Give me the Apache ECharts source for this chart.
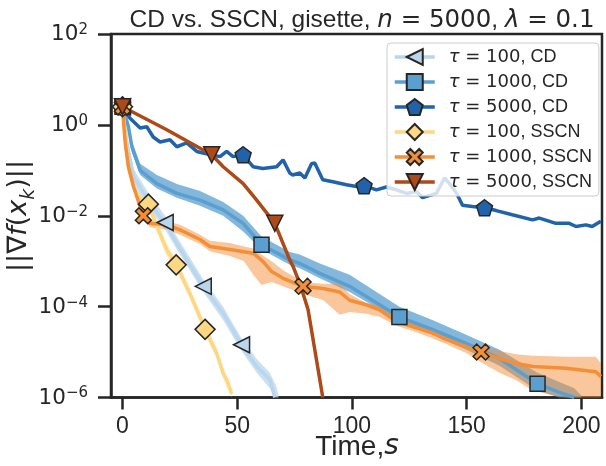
<!DOCTYPE html>
<html><head><meta charset="utf-8">
<script src="https://cdn.jsdelivr.net/npm/echarts@6/dist/echarts.min.js"></script>
<style>html,body{margin:0;padding:0;background:#fff}#c{width:606px;height:466px}</style>
</head><body><div id="c"></div>
<script>
// ---------- tick labels ----------
const xTicks = [0, 50, 100, 150, 200];
const yTicks = [1e-6, 1e-4, 1e-2, 1e0, 1e2];
const seriesNames = ['τ = 100, CD', 'τ = 1000, CD', 'τ = 5000, CD', 'τ = 100, SSCN', 'τ = 1000, SSCN', 'τ = 5000, SSCN'];

// ---------- τ = 100, CD ----------
const cd100X = [0, 1.9, 4.8, 12.0, 16.4, 18.6, 23.7, 35.2, 43.9, 51.9, 58.5, 64.2, 66.4];
const cd100Y = [2.5, 0.40, 0.072, 0.019, 0.0095, 0.0071, 0.00245, 0.00028, 0.000071, 0.0000145, 0.0000048, 0.0000025, 0.000001];
const cd100Marks = [0, 5, 7, 9];
const cd100BandX = [0, 1.9, 4.8, 12, 16.4, 18.6, 23.7, 35.2, 43.9, 51.9, 58.5, 64.2, 67, 68];
const cd100BandLo = [2.5, 0.28, 0.050, 0.0126, 0.0071, 0.005, 0.0018, 0.00021, 0.00005, 0.0000105, 0.0000035, 0.0000016, 6.3e-7, 5e-7];
const cd100BandHi = [2.5, 0.56, 0.11, 0.028, 0.014, 0.01, 0.0035, 0.0004, 0.0001, 0.00002, 0.000007, 0.0000035, 0.0000018, 0.0000011];

// ---------- τ = 1000, CD ----------
const cd1000X = [0, 2.6, 4.1, 7.7, 15.0, 23.7, 33.8, 43.9, 52.6, 60.6, 72.9, 77.3, 86.0, 99.0, 120.7, 135.3, 149.8, 164.3, 180.9, 190.4, 196.9];
const cd1000Y = [2.5, 0.91, 0.33, 0.10, 0.051, 0.031, 0.022, 0.0135, 0.0068, 0.0023, 0.00107, 0.00089, 0.00054, 0.00028, 0.000059, 0.000031, 0.0000155, 0.0000072, 0.000002, 0.0000013, 0.000001];
const cd1000Marks = [0, 9, 14, 18];
const cd1000BandX = [0, 2.6, 4.1, 7.7, 15, 23.7, 33.8, 43.9, 52.6, 60.6, 72.9, 77.3, 86, 99, 120.7, 135.3, 149.8, 164.3, 180.9, 190.4, 196.9, 200];
const cd1000BandLo = [2.5, 0.79, 0.25, 0.079, 0.04, 0.025, 0.0166, 0.01, 0.0045, 0.0018, 0.00083, 0.0007, 0.00042, 0.00021, 0.000048, 0.000024, 0.0000112, 0.000005, 0.0000014, 8e-7, 6.3e-7, 5e-7];
const cd1000BandHi = [2.5, 1.12, 0.45, 0.14, 0.079, 0.05, 0.035, 0.02, 0.01, 0.0035, 0.0016, 0.0014, 0.00089, 0.0005, 0.0001, 0.00005, 0.000024, 0.0000112, 0.0000035, 0.0000022, 0.0000016, 0.0000011];

// ---------- τ = 5000, CD ----------
const cd5000X = [0, 3.3, 7.7, 10.6, 13.4, 16.4, 20.7, 23.7, 28.0, 32.4, 35.1, 42.5, 45.4, 48.2, 52.6, 56.9, 61.2, 67.2, 70.0, 72.9, 74.2, 77.3, 79.5, 82.4, 83.8, 87.3, 91.7, 97.6, 102.0, 105.3, 110.7, 115.0, 119.4, 123.7, 128.1, 130.8, 136.8, 140.4, 142.5, 145.5, 148.2, 152.5, 157.8, 162.9, 169.9, 178.7, 181.7, 188.9, 194.7, 197.7, 202.0, 204.7, 208.5];
const cd5000Y = [2.5, 1.4, 0.85, 0.91, 0.54, 0.42, 0.47, 0.33, 0.40, 0.26, 0.24, 0.20, 0.26, 0.20, 0.22, 0.12, 0.11, 0.12, 0.17, 0.087, 0.079, 0.087, 0.068, 0.14, 0.145, 0.062, 0.056, 0.048, 0.044, 0.046, 0.037, 0.043, 0.037, 0.031, 0.034, 0.025, 0.031, 0.068, 0.051, 0.032, 0.017, 0.016, 0.015, 0.013, 0.0105, 0.0081, 0.0089, 0.0068, 0.0068, 0.0058, 0.0063, 0.0058, 0.0076];
const cd5000Marks = [0, 14, 29, 42];

// ---------- τ = 100, SSCN ----------
const sscn100X = [0, 1.2, 2.5, 5.0, 8.0, 11.3, 13.4, 15.0, 19.3, 23.4, 29.4, 36.0, 41.1, 43.9, 45.4, 47.6];
const sscn100Y = [2.5, 0.63, 0.126, 0.040, 0.022, 0.018, 0.0095, 0.0058, 0.0018, 0.00083, 0.000195, 0.0000316, 0.0000093, 0.0000034, 0.0000025, 0.0000012];
const sscn100Marks = [0, 5, 9, 11];
const sscn100BandX = [0, 1.2, 2.5, 5, 8, 11.3, 15, 19.3, 23.4, 29.4, 36, 41.1, 43.9, 47.6];
const sscn100BandLo = [2.5, 0.5, 0.1, 0.032, 0.0178, 0.014, 0.0045, 0.0013, 0.00063, 0.00015, 0.000024, 0.000007, 0.0000026, 0.000001];
const sscn100BandHi = [2.5, 0.79, 0.16, 0.05, 0.028, 0.022, 0.0076, 0.0024, 0.00112, 0.00025, 0.000042, 0.000012, 0.0000045, 0.0000016];

// ---------- τ = 1000, SSCN ----------
const sscn1000X = [0, 0.4, 1.2, 2.6, 4.8, 7.7, 9.1, 12.0, 19.3, 25.1, 33.8, 38.1, 46.8, 57.0, 61.3, 65.0, 70.0, 78.7, 87.4, 94.7, 99.0, 106.3, 112.1, 119.4, 126.6, 135.3, 141.1, 149.8, 156.3, 164.3, 171.6, 178.8, 193.3, 206.3, 208.5];
const sscn1000Y = [2.5, 1.3, 0.40, 0.12, 0.044, 0.016, 0.010, 0.0068, 0.0063, 0.0049, 0.0030, 0.0021, 0.0018, 0.0015, 0.00098, 0.00059, 0.00042, 0.00028, 0.00025, 0.00021, 0.000138, 0.00011, 0.000085, 0.000047, 0.000036, 0.000026, 0.000019, 0.0000132, 0.00001, 0.0000072, 0.0000056, 0.0000048, 0.0000044, 0.0000037, 0.0000029];
const sscn1000Marks = [0, 6, 17, 28];
const sscn1000BandX = [0, 2.6, 4.8, 7.7, 9.1, 12.0, 19.3, 25.1, 33.8, 38.1, 46.8, 53, 57, 60.6, 65, 70, 78.7, 87.4, 94.7, 99, 106.3, 112.1, 119.4, 126.6, 135.3, 141.1, 149.8, 156.3, 164.3, 171.6, 178.8, 193.3, 206.3, 208.5];
const sscn1000BandLo = [2.5, 0.1, 0.035, 0.013, 0.0085, 0.0056, 0.005, 0.0038, 0.0024, 0.00166, 0.0013, 0.001, 0.0005, 0.0003, 0.00035, 0.00028, 0.00019, 0.00014, 0.000066, 0.000076, 0.00007, 0.00006, 0.000038, 0.000029, 0.00002, 0.000015, 0.0000095, 0.000006, 0.0000035, 0.0000024, 0.0000014, 5e-7, 5e-7, 5e-7];
const sscn1000BandHi = [2.5, 0.14, 0.052, 0.019, 0.0115, 0.0079, 0.0076, 0.0063, 0.0038, 0.0028, 0.0025, 0.0021, 0.0019, 0.0014, 0.001, 0.00063, 0.00035, 0.00032, 0.00032, 0.00019, 0.00012, 0.000105, 0.000056, 0.000043, 0.00003, 0.000022, 0.0000166, 0.0000132, 0.0000105, 0.0000089, 0.0000083, 0.0000079, 0.0000079, 0.0000056];

// ---------- τ = 5000, SSCN ----------
const sscn5000X = [0, 19.3, 38.9, 43.9, 52.6, 58.5, 66.4, 72.9, 74.4, 77.3, 78.7, 80.9, 86.0, 87.3];
const sscn5000Y = [2.5, 0.78, 0.22, 0.12, 0.051, 0.022, 0.0068, 0.00107, 0.00076, 0.00032, 0.000195, 0.000085, 0.0000025, 0.000001];
const sscn5000Marks = [0, 2, 6];

// ---------- styling ----------
const C = {
  lightBlue: '#b9d6ec', midBlue: '#5a9fd0', darkBlue: '#2163aa',
  yellow: '#fed782', orange: '#f48f38', brown: '#ad4a18', ink: '#262626'
};
const FONT = 'Liberation Sans';
const MATH = 'DejaVu Sans';
const SYM = {
  triLeft: 'path://M-1,0 L1,-1 L1,1 Z',
  square: 'rect',
  pentagon: 'path://M0,-1 L0.951,-0.309 L0.588,0.809 L-0.588,0.809 L-0.951,-0.309 Z',
  diamond: 'diamond',
  xmark: 'path://M-1,-0.55 L-0.55,-1 L0,-0.45 L0.55,-1 L1,-0.55 L0.45,0 L1,0.55 L0.55,1 L0,0.45 L-0.55,1 L-1,0.55 L-0.45,0 Z',
  triDown: 'path://M-1,-1 L1,-1 L0,1 Z'
};

function band(xs, lo, hi, color, opacity) {
  return {
    type: 'custom', silent: true, animation: false,
    data: [[0, 1]], encode: { x: 0, y: 1 },
    renderItem: function (params, api) {
      const pts = [];
      for (let i = 0; i < xs.length; i++) pts.push(api.coord([xs[i], Math.max(hi[i], 1e-6)]));
      for (let i = xs.length - 1; i >= 0; i--) pts.push(api.coord([xs[i], Math.max(lo[i], 1e-6)]));
      return { type: 'polygon', shape: { points: pts }, style: { fill: color, opacity: opacity } };
    }
  };
}
function line(name, xs, ys, marks, color, symbol, size) {
  return {
    type: 'line', name: name, symbol: symbol, symbolSize: size, showSymbol: true,
    animation: false, z: 3,
    data: xs.map((x, i) => marks.indexOf(i) >= 0 ? { value: [x, ys[i]] } : { value: [x, ys[i]], symbol: 'none' }),
    lineStyle: { color: color, width: 3.5 },
    itemStyle: { color: color, borderColor: C.ink, borderWidth: 1.5 },
    emphasis: { disabled: true }
  };
}

const chart = echarts.init(document.getElementById('c'), null, { renderer: 'canvas' });
chart.setOption({
  animation: false,
  backgroundColor: '#fff',
  textStyle: { fontFamily: FONT, color: C.ink },
  title: {
    text: '{a|CD vs. SSCN, gisette, }{i|n}{m| = 5000}{a|, }{i|λ}{m| = 0.1}',
    left: 357, textAlign: 'center', top: 3,
    textStyle: {
      fontWeight: 'normal',
      rich: {
        a: { fontFamily: FONT, fontSize: 24.5, color: C.ink, fontWeight: 'normal' },
        m: { fontFamily: MATH, fontSize: 24.5, color: C.ink, fontWeight: 'normal' },
        i: { fontFamily: MATH, fontSize: 24.5, color: C.ink, fontStyle: 'italic', fontWeight: 'normal' }
      }
    }
  },
  graphic: [
    {
      type: 'text', x: 357, y: 447, silent: true,
      style: {
        text: '{a|Time,}{i|s}', align: 'center', verticalAlign: 'middle',
        rich: {
          a: { fontFamily: FONT, fontSize: 28, fill: C.ink },
          i: { fontFamily: MATH, fontSize: 28, fill: C.ink, fontStyle: 'italic' }
        }
      }
    },
    {
      type: 'text', x: 22, y: 216, rotation: Math.PI / 2, silent: true,
      style: {
        text: '{a|||∇}{i|f}{a|(}{i|x}{k|k}{a|)||}', align: 'center', verticalAlign: 'middle',
        rich: {
          a: { fontFamily: MATH, fontSize: 27, fill: C.ink, verticalAlign: 'top', lineHeight: 33 },
          i: { fontFamily: MATH, fontSize: 27, fill: C.ink, fontStyle: 'italic', verticalAlign: 'top', lineHeight: 33 },
          k: { fontFamily: MATH, fontSize: 19, fill: C.ink, fontStyle: 'italic', verticalAlign: 'bottom', lineHeight: 22 }
        }
      }
    }
  ],
  grid: { left: 111, right: 4, top: 34, bottom: 68.5, show: true, borderColor: C.ink, borderWidth: 2.5, containLabel: false, outerBoundsMode: 'none' },
  legend: {
    data: seriesNames,
    left: 387, top: 43, orient: 'vertical',
    padding: [5, 7, 5, 6], itemGap: 7, itemWidth: 40, itemHeight: 20,
    backgroundColor: 'rgba(255,255,255,0.8)', borderColor: '#cccccc', borderWidth: 1, borderRadius: 4,
    lineStyle: { width: 3.5 },
    formatter: function (name) {
      const p = name.split(',');
      return '{i|τ}{m|' + p[0].slice(1) + '}{a|,' + p[1] + '}';
    },
    textStyle: {
      padding: [0, 0, 0, 9],
      rich: {
        a: { fontFamily: FONT, fontSize: 18, color: C.ink },
        m: { fontFamily: MATH, fontSize: 18, color: C.ink },
        i: { fontFamily: MATH, fontSize: 18, color: C.ink, fontStyle: 'italic' }
      }
    },
    selectedMode: false
  },
  xAxis: {
    type: 'value', min: -5, max: 209,
    axisLine: { show: true, onZero: false, lineStyle: { color: C.ink, width: 2.5 } },
    axisTick: { show: true, customValues: xTicks, length: 12, lineStyle: { color: C.ink, width: 2.5 } },
    axisLabel: { customValues: xTicks, margin: 18, fontFamily: FONT, fontSize: 23, color: C.ink },
    splitLine: { show: false }
  },
  yAxis: {
    type: 'log', logBase: 10, min: 1e-6, max: 1e2,
    axisLine: { show: true, onZero: false, lineStyle: { color: C.ink, width: 2.5 } },
    axisTick: { show: true, customValues: yTicks, length: 13, lineStyle: { color: C.ink, width: 2.5 } },
    axisLabel: {
      customValues: yTicks, margin: 23,
      formatter: function (v) {
        const e = Math.round(Math.log10(v));
        return '{b|10}{s|' + (e < 0 ? '\u2212' + (-e) : e) + '}';
      },
      rich: {
        b: { fontFamily: MATH, fontSize: 21.5, color: C.ink, verticalAlign: 'bottom', lineHeight: 23 },
        s: { fontFamily: MATH, fontSize: 15, color: C.ink, verticalAlign: 'top', lineHeight: 16 }
      }
    },
    splitLine: { show: false }
  },
  series: [
    band(cd100BandX, cd100BandLo, cd100BandHi, C.lightBlue, 0.75),
    line(seriesNames[0], cd100X, cd100Y, cd100Marks, C.lightBlue, SYM.triLeft, 16),
    band(cd1000BandX, cd1000BandLo, cd1000BandHi, C.midBlue, 0.75),
    line(seriesNames[1], cd1000X, cd1000Y, cd1000Marks, C.midBlue, SYM.square, 15),
    line(seriesNames[2], cd5000X, cd5000Y, cd5000Marks, C.darkBlue, SYM.pentagon, 16),
    band(sscn100BandX, sscn100BandLo, sscn100BandHi, C.yellow, 0.55),
    line(seriesNames[3], sscn100X, sscn100Y, sscn100Marks, C.yellow, SYM.diamond, 20),
    band(sscn1000BandX, sscn1000BandLo, sscn1000BandHi, C.orange, 0.5),
    line(seriesNames[4], sscn1000X, sscn1000Y, sscn1000Marks, C.orange, SYM.xmark, 16),
    line(seriesNames[5], sscn5000X, sscn5000Y, sscn5000Marks, C.brown, SYM.triDown, 16)
  ]
});
</script></body></html>
